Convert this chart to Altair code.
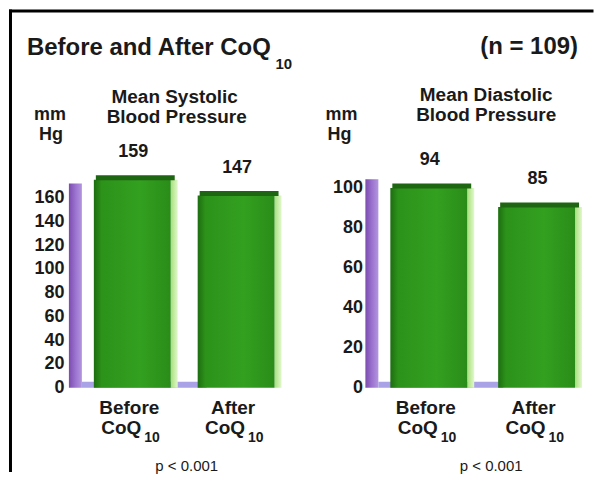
import altair as alt
import pandas as pd

# ---- data ----
conditions = ["Before", "After"]
systolic = [159, 147]
diastolic = [94, 85]
systolic_ticks = [0, 20, 40, 60, 80, 100, 120, 140, 160]
diastolic_ticks = [0, 20, 40, 60, 80, 100]
headline = "Before and After CoQ"
subscript = "10"
sample = "(n = 109)"
systolic_title = ["Mean Systolic", "Blood Pressure"]
diastolic_title = ["Mean Diastolic", "Blood Pressure"]
unit = ["mm", "Hg"]
p_value = "p < 0.001"

FONT = "Liberation Sans"
INK = "#1a1a1a"
H = 227
BAR_W = 77

front_fill = alt.Gradient(
    gradient="linear", x1=0, x2=1, y1=0, y2=0,
    stops=[alt.GradientStop(offset=0, color="#1d6e10"),
           alt.GradientStop(offset=0.1, color="#2c921a"),
           alt.GradientStop(offset=0.6, color="#33a020"),
           alt.GradientStop(offset=1, color="#2a8c18")])
side_fill = alt.Gradient(
    gradient="linear", x1=0, x2=1, y1=0, y2=0,
    stops=[alt.GradientStop(offset=0, color="#a6e07a"),
           alt.GradientStop(offset=1, color="#e2f8cc")])
wall_fill = alt.Gradient(
    gradient="linear", x1=0, x2=1, y1=0, y2=0,
    stops=[alt.GradientStop(offset=0, color="#7a4cae"),
           alt.GradientStop(offset=0.5, color="#9b72cf"),
           alt.GradientStop(offset=1, color="#b296de")])


def txt(s, x, y, size, weight="bold", align="center"):
    return alt.Chart(pd.DataFrame({"t": [s]})).mark_text(
        text=s, font=FONT, fontSize=size, fontWeight=weight, align=align,
        baseline="alphabetic", color=INK
    ).encode(x=alt.value(x), y=alt.value(y))


def panel(values, ticks, bar_max, axis_max, wall_top, W, po, align, floor_end,
          label_pad, texts):
    df = pd.DataFrame({"cond": conditions, "v": values})
    one = pd.DataFrame({"a": [0]})
    x_enc = alt.X("cond:N", sort=conditions, axis=None,
                  scale=alt.Scale(paddingInner=0, paddingOuter=po, align=align))
    y_bar = alt.Y("v:Q", axis=None, scale=alt.Scale(domain=[0, bar_max], nice=False))

    def y_axis(val):
        return alt.YDatum(
            val, type="quantitative",
            scale=alt.Scale(domain=[0, axis_max], nice=False),
            axis=alt.Axis(values=ticks, orient="left", title=None,
                          ticks=False, domain=False, grid=False,
                          labelFont=FONT, labelFontSize=18,
                          labelFontWeight="bold", labelColor=INK,
                          labelPadding=label_pad, labelOverlap=False))

    axis_layer = alt.layer(
        alt.Chart(one).mark_rect(fill=wall_fill).encode(
            x=alt.value(2), x2=alt.value(15),
            y=y_axis(0), y2=alt.Y2Datum(wall_top)),
        alt.Chart(one).mark_rule(color="#a9a2e6", strokeWidth=6, yOffset=-3).encode(
            x=alt.value(15), x2=alt.value(floor_end), y=y_axis(0)),
    )

    base = alt.Chart(df)
    bars_layer = alt.layer(
        base.mark_bar(width=7, xOffset=42, fill=side_fill).encode(x=x_enc, y=y_bar),
        base.mark_bar(width=BAR_W, fill=front_fill).encode(x=x_enc, y=y_bar),
        base.mark_tick(orient="horizontal", size=BAR_W + 2, thickness=5, opacity=1,
                       xOffset=3, yOffset=-2, color="#1f6612").encode(x=x_enc, y=y_bar),
        base.mark_text(font=FONT, fontSize=18, fontWeight="bold", color=INK,
                       baseline="alphabetic", dy=-23, dx=1).encode(
            x=x_enc, y=y_bar, text="v:Q"),
        base.mark_text(font=FONT, fontSize=19, fontWeight="bold", color=INK,
                       baseline="alphabetic", dx=-3).encode(
            x=x_enc, y=alt.value(253), text="cond:N"),
        base.mark_text(text="CoQ", font=FONT, fontSize=19, fontWeight="bold", color=INK,
                       baseline="alphabetic", align="right", dx=9).encode(
            x=x_enc, y=alt.value(273)),
        base.mark_text(text=subscript, font=FONT, fontSize=14, fontWeight="bold", color=INK,
                       baseline="alphabetic", align="left", dx=12).encode(
            x=x_enc, y=alt.value(281)),
    )

    return alt.layer(axis_layer, bars_layer, *texts).resolve_scale(
        y="independent").properties(width=W, height=H)


border = [
    alt.Chart(pd.DataFrame({"a": [0]})).mark_rule(
        color="black", strokeWidth=3, strokeCap="square").encode(
        x=alt.value(-56.5), y=alt.value(-150.5), y2=alt.value(310)),
    alt.Chart(pd.DataFrame({"a": [0]})).mark_rule(
        color="black", strokeWidth=3, strokeCap="square").encode(
        x=alt.value(-56.5), x2=alt.value(526), y=alt.value(-150.5)),
]

left_texts = border + [
    txt(headline, -40, -106, 24, align="left"),
    txt(subscript, 209, -92, 15, align="left"),
    txt(systolic_title[0], 108, -58, 19),
    txt(systolic_title[1], 110, -38, 19),
    txt(unit[0], -17, -41, 18),
    txt(unit[1], -16, -21, 18),
    txt(p_value, 120, 310, 15, weight="normal"),
]
right_texts = [
    txt(sample, 215, -107, 24, align="right"),
    txt(diastolic_title[0], 123, -60, 19),
    txt(diastolic_title[1], 123, -40, 19),
    txt(unit[0], -22, -41, 18),
    txt(unit[1], -24, -21, 18),
    txt(p_value, 128, 310, 15, weight="normal"),
]

left = panel(systolic, systolic_ticks, 173.3, 190.8, 172, 235, 0.1298, 0.5, 140, 3,
             left_texts)
right = panel(diastolic, diastolic_ticks, 106.6, 113, 104, 230, 0.0648, 0.821, 140, 1,
              right_texts)

chart = alt.hconcat(left, right, spacing=62, bounds="flush").properties(
    padding=0, background="white"
).configure_view(stroke=None)

chart.save("out.html", embed_options={"renderer": "svg", "actions": False})
